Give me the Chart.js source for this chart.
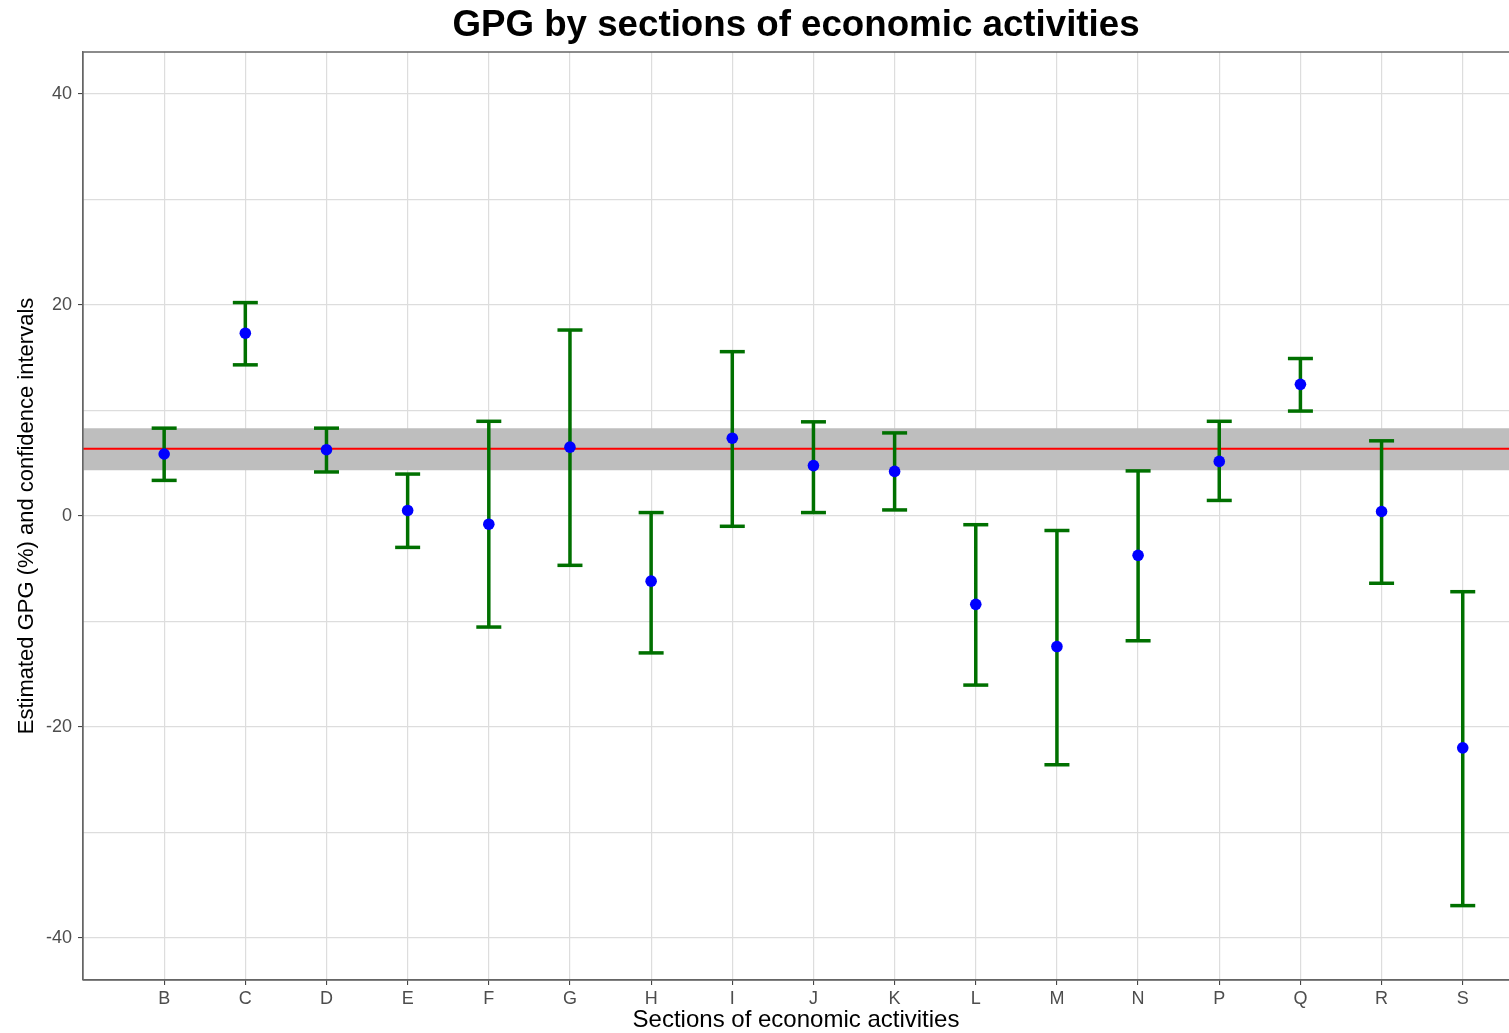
<!DOCTYPE html>
<html>
<head>
<meta charset="utf-8">
<script src="https://cdn.jsdelivr.net/npm/chart.js@4"></script>
<style>
  html, body { margin: 0; padding: 0; background: #ffffff; overflow: hidden; }
  canvas { display: block; }
</style>
</head>
<body>
<canvas id="c" width="1509" height="1033"></canvas>
<script>
// ---- data ----
const categories = ['B','C','D','E','F','G','H','I','J','K','L','M','N','P','Q','R','S'];
const estimates  = [5.85, 17.3, 6.26, 0.5, -0.8, 6.5, -6.2, 7.35, 4.75, 4.2, -8.4, -12.4, -3.75, 5.15, 12.45, 0.4, -22.0];
const lowerCI    = [3.35, 14.3, 4.15, -3.0, -10.55, -4.7, -13.0, -1.0, 0.3, 0.55, -16.05, -23.6, -11.85, 1.45, 9.92, -6.4, -36.95];
const upperCI    = [8.3, 20.2, 8.3, 3.95, 8.95, 17.6, 0.3, 15.55, 8.9, 7.85, -0.85, -1.4, 4.25, 8.95, 14.9, 7.1, -7.2];
const overallGPG = 6.35;
const overallLow = 4.3;
const overallHigh = 8.3;
const yTicks = [-40, -30, -20, -10, 0, 10, 20, 30, 40];
const yLabelTicks = [-40, -20, 0, 20, 40];

const titleText = 'GPG by sections of economic activities';
const xTitle = 'Sections of economic activities';
const yTitle = 'Estimated GPG (%) and confidence intervals';

const X_MIN = -1, X_MAX = 16.57;
const GREEN = '#007000';
const TICKFONT = "'Liberation Sans Narrow', 'Arial Narrow', 'Liberation Sans', Arial, sans-serif";
const FONT = "'Liberation Sans', Arial, sans-serif";

const barSegments = [];
categories.forEach((c, i) => {
  barSegments.push({x: i, y: lowerCI[i]});
  barSegments.push({x: i, y: upperCI[i]});
  barSegments.push({x: i, y: null});
});
const capPoints = [];
categories.forEach((c, i) => {
  capPoints.push({x: i, y: lowerCI[i]});
  capPoints.push({x: i, y: upperCI[i]});
});

const titlePlugin = {
  id: 'topTitle',
  afterDraw(chart) {
    const {ctx, chartArea} = chart;
    ctx.save();
    ctx.font = "bold 36.7px " + FONT;
    ctx.fillStyle = '#000';
    ctx.textAlign = 'center';
    ctx.textBaseline = 'middle';
    ctx.fillText(titleText, (chartArea.left + chartArea.right) / 2, 26);
    ctx.restore();
  }
};
const borderPlugin = {
  id: 'panelBorder',
  afterDatasetsDraw(chart) {
    const {ctx, chartArea} = chart;
    ctx.save();
    ctx.strokeStyle = '#666';
    ctx.lineWidth = 1.3;
    ctx.beginPath();
    ctx.moveTo(chartArea.left, chartArea.bottom);
    ctx.lineTo(chartArea.left, chartArea.top);
    ctx.lineTo(chartArea.right, chartArea.top);
    ctx.moveTo(chartArea.left, chartArea.bottom);
    ctx.lineTo(chartArea.right, chartArea.bottom);
    ctx.stroke();
    ctx.restore();
  }
};

new Chart(document.getElementById('c'), {
  type: 'scatter',
  data: {
    datasets: [
      { type: 'scatter', label: 'estimate', order: 1,
        data: estimates.map((v, i) => ({x: i, y: v})),
        pointStyle: 'circle', pointRadius: 5.8, pointBackgroundColor: '#0000FF', pointBorderColor: '#0000FF', pointBorderWidth: 0 },
      { type: 'scatter', label: 'caps', order: 2,
        data: capPoints,
        pointStyle: 'line', pointRadius: 12.5, pointBorderColor: GREEN, pointBorderWidth: 3.5, pointBackgroundColor: GREEN },
      { type: 'line', label: 'ci', order: 3,
        data: barSegments, spanGaps: false, borderColor: GREEN, borderWidth: 3.5, pointRadius: 0, fill: false, tension: 0 },
      { type: 'line', label: 'mean', order: 4,
        data: [{x: X_MIN, y: overallGPG}, {x: X_MAX, y: overallGPG}],
        borderColor: '#FF0000', borderWidth: 2, pointRadius: 0, fill: false },
      { type: 'line', label: 'bandHigh', order: 5,
        data: [{x: X_MIN, y: overallHigh}, {x: X_MAX, y: overallHigh}],
        borderColor: 'rgba(0,0,0,0)', borderWidth: 0, pointRadius: 0, fill: false },
      { type: 'line', label: 'bandLow', order: 6,
        data: [{x: X_MIN, y: overallLow}, {x: X_MAX, y: overallLow}],
        borderColor: 'rgba(0,0,0,0)', borderWidth: 0, pointRadius: 0, fill: '-1', backgroundColor: '#BEBEBE' }
    ]
  },
  options: {
    responsive: false,
    maintainAspectRatio: false,
    animation: false,
    devicePixelRatio: 1,
    layout: { autoPadding: false, padding: { top: 52, left: 0, right: 0, bottom: 0 } },
    plugins: { legend: { display: false }, tooltip: { enabled: false }, title: { display: false } },
    scales: {
      x: {
        type: 'linear', min: X_MIN, max: X_MAX, offset: false,
        afterBuildTicks: s => { s.ticks = categories.map((c, i) => ({value: i})); },
        afterFit: s => { s.height = 53; },
        ticks: {
          autoSkip: false, maxRotation: 0, padding: 3, color: '#4D4D4D',
          font: { family: TICKFONT, size: 18 },
          callback: v => categories[v] ?? ''
        },
        grid: { color: '#DDDDDD', lineWidth: 1.2, tickLength: 5, tickColor: '#333', tickWidth: 1 },
        border: { display: true, color: '#666', width: 1.3 },
        title: { display: true, text: xTitle, color: '#000', font: { family: FONT, size: 24 }, padding: { top: 0, bottom: -2 } }
      },
      y: {
        type: 'linear', min: -44.0, max: 43.95,
        afterBuildTicks: s => { s.ticks = yTicks.map(v => ({value: v})); },
        afterFit: s => { s.width = 83; },
        ticks: {
          padding: 6, color: '#4D4D4D',
          font: { family: TICKFONT, size: 18 },
          callback: v => yLabelTicks.includes(v) ? String(v) : ''
        },
        grid: {
          color: '#DDDDDD', lineWidth: 1.2, tickLength: 5, tickWidth: 1,
          tickColor: ctx => (ctx.tick && yLabelTicks.includes(ctx.tick.value)) ? '#333' : 'rgba(0,0,0,0)'
        },
        border: { display: true, color: '#666', width: 1.3 },
        title: { display: true, text: yTitle, color: '#000', font: { family: FONT, size: 22 }, padding: { top: 14, bottom: 0 } }
      }
    }
  },
  plugins: [titlePlugin, borderPlugin]
});
</script>
</body>
</html>
